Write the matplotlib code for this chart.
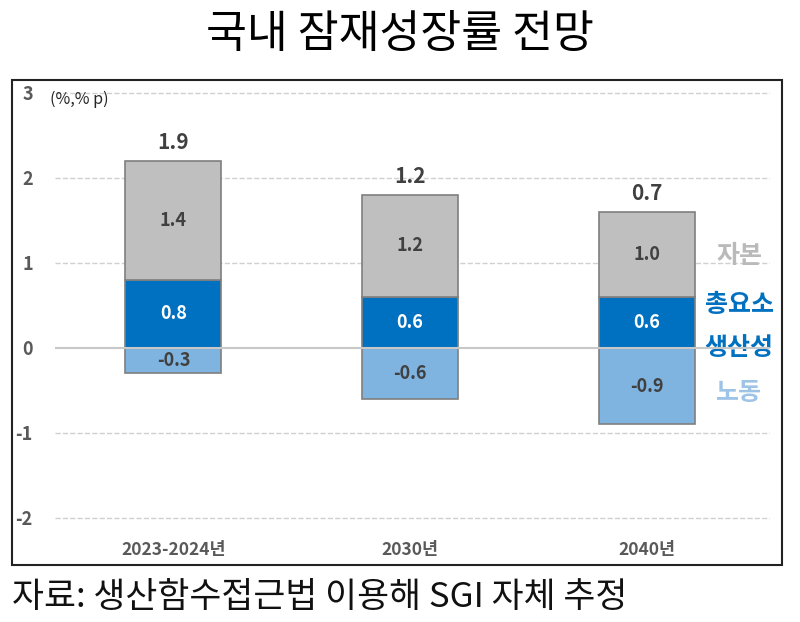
import matplotlib.pyplot as plt
from matplotlib.patches import Rectangle

plt.rcParams['font.family'] = ['Noto Sans CJK KR', 'DejaVu Sans']

# data
periods = ['2023-2024년', '2030년', '2040년']
labor = [-0.3, -0.6, -0.9]
tfp = [0.8, 0.6, 0.6]
capital = [1.4, 1.2, 1.0]
totals = [round(l + t + c, 1) for l, t, c in zip(labor, tfp, capital)]

c_cap = '#bfbfbf'
c_tfp = '#0070c0'
c_lab = '#7fb3e0'
edge = '#7f7f7f'
txt = '#404040'

fig = plt.figure(figsize=(8, 6.22), dpi=100)
ax = fig.add_axes([0.06875, 0.1399, 0.89375, 0.7311])

x = list(range(len(periods)))
w = 0.405
ax.bar(x, labor, w, color=c_lab, edgecolor=edge, linewidth=1.2, zorder=3)
ax.bar(x, tfp, w, color=c_tfp, edgecolor=edge, linewidth=1.2, zorder=3)
ax.bar(x, capital, w, bottom=tfp, color=c_cap, edgecolor=edge, linewidth=1.2, zorder=3)

for i in x:
    ax.text(i, labor[i] / 2, f'{labor[i]:.1f}', ha='center', va='center',
            fontsize=13, fontweight='bold', color=txt, zorder=4)
    ax.text(i, tfp[i] / 2, f'{tfp[i]:.1f}', ha='center', va='center',
            fontsize=13, fontweight='bold', color='white', zorder=4)
    ax.text(i, tfp[i] + capital[i] / 2, f'{capital[i]:.1f}', ha='center', va='center',
            fontsize=13, fontweight='bold', color=txt, zorder=4)
    ax.annotate(f'{totals[i]:.1f}', (i, tfp[i] + capital[i]), xytext=(0, 6),
                textcoords='offset points', ha='center', va='bottom',
                fontsize=15, fontweight='bold', color=txt)

ax.set_xlim(-0.5, 2.52)
ax.set_ylim(-2.2, 3.15)
ax.set_yticks([-2, -1, 0, 1, 2, 3])
ax.set_yticklabels(['-2', '-1', '0', '1', '2', '3'], fontsize=13, fontweight='bold', color='#595959')
ax.set_xticks(x)
ax.set_xticklabels(periods, fontsize=12.5, fontweight='bold', color='#595959')
ax.tick_params(axis='y', length=0, pad=16)
ax.tick_params(axis='x', length=0, pad=4)
for s in ax.spines.values():
    s.set_visible(False)
for yv in [-2, -1, 1, 2, 3]:
    ax.axhline(yv, color='#d0d0d0', linestyle='--', linewidth=1, zorder=1)
ax.axhline(0, color='#c8c8c8', linewidth=1.5, zorder=5)

ax.text(-0.52, 2.92, '(%,% p)', ha='left', va='center', fontsize=11.5, color='#262626')

# legend-like labels on the right
ax.text(2.39, 1.08, '자본', ha='center', va='center', fontsize=18, fontweight='bold', color='#bababa')
ax.text(2.39, 0.51, '총요소', ha='center', va='center', fontsize=18, fontweight='bold', color=c_tfp)
ax.text(2.39, 0.0, '생산성', ha='center', va='center', fontsize=18, fontweight='bold', color=c_tfp)
ax.text(2.39, -0.53, '노동', ha='center', va='center', fontsize=18, fontweight='bold', color='#9dc3e6')

# outer frame
fig.patches.append(Rectangle((0.015, 0.0916), 0.9625, 0.7797, transform=fig.transFigure,
                             fill=False, edgecolor='#222222', linewidth=1.5))

fig.text(0.5, 1 - 34 / 622, '국내 잠재성장률 전망', ha='center', va='center',
         fontsize=32, fontweight='medium', color='black')
fig.text(0.015, 1 - 598 / 622, '자료: 생산함수접근법 이용해 SGI 자체 추정', ha='left', va='center',
         fontsize=25, fontweight='light', color='#111111')

fig.savefig('out.png', dpi=100)
